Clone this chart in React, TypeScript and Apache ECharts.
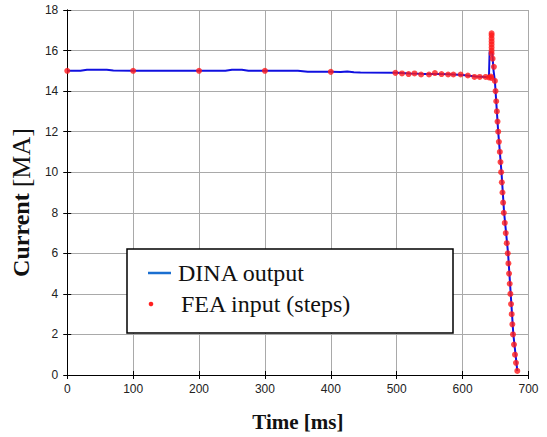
import React, { useEffect, useRef } from "react";
import * as echarts from "echarts";

// DINA output (blue line): time [ms], current [MA]
const dinaTime = [0, 20, 30, 60, 70, 100, 150, 200, 240, 250, 265, 275, 300, 350, 365, 400, 415, 425, 435, 445, 500, 520, 540, 560, 580, 600, 620, 635, 640, 641, 645, 647, 649, 654, 659, 663, 669, 673, 677, 683];
const dinaValue = [15.0, 15.0, 15.05, 15.05, 15.02, 15.0, 15.0, 15.0, 15.0, 15.05, 15.05, 15.0, 15.0, 15.0, 14.96, 14.95, 14.94, 14.97, 14.93, 14.92, 14.9, 14.87, 14.85, 14.85, 14.83, 14.8, 14.72, 14.7, 14.7, 15.95, 15.9, 15.0, 14.5, 12.0, 10.0, 8.0, 6.0, 4.0, 2.0, 0.2];

// FEA input steps (red dots)
const feaTime = [0, 100, 200, 300, 400, 498, 508, 518, 527, 537, 549, 558, 568, 578, 586, 597, 608, 618, 626, 635, 640, 643, 643.5, 644, 644, 644, 644, 644, 644, 644, 644, 645.5, 647.5, 649, 650, 651, 652, 653, 654, 655, 656.5, 657.5, 658.5, 659.5, 660.5, 661.5, 662.5, 664, 665.5, 667, 668.5, 669.5, 670.5, 671.5, 672.5, 673.5, 674.5, 675.5, 676.5, 678, 679.5, 681, 683];
const feaValue = [15.0, 15.0, 15.0, 15.0, 14.95, 14.9, 14.87, 14.84, 14.87, 14.82, 14.82, 14.89, 14.84, 14.82, 14.82, 14.82, 14.77, 14.7, 14.7, 14.7, 14.67, 14.72, 14.65, 15.85, 16.0, 16.15, 16.3, 16.45, 16.6, 16.75, 16.85, 15.6, 15.2, 14.5, 14.0, 13.5, 13.0, 12.5, 12.0, 11.5, 11.0, 10.5, 10.0, 9.5, 9.0, 8.5, 8.0, 7.5, 7.0, 6.5, 6.0, 5.5, 5.0, 4.5, 4.0, 3.5, 3.0, 2.5, 2.0, 1.5, 1.0, 0.6, 0.2];

const seriesNames = ["DINA output", "FEA input (steps)"];
const xTicks = { min: 0, max: 700, interval: 100 };
const yTicks = { min: 0, max: 18, interval: 2 };

const tickFont = { fontFamily: "Liberation Sans", fontSize: 12, color: "#222" };
const SERIF = "Liberation Serif";
const LEGEND_FONT = "normal 400 24px \"Liberation Serif\", \"Times New Roman\", serif";

export default function App() {
  const ref = useRef<HTMLDivElement>(null);
  useEffect(() => {
    if (!ref.current) return;
    const chart = echarts.init(ref.current, undefined, { renderer: "svg" });
    const dina = dinaTime.map((t, i) => [t, dinaValue[i]]);
    const fea = feaTime.map((t, i) => [t, feaValue[i]]);
    const secondaryAxisCommon = {
      axisLabel: { show: false },
      axisTick: { show: true, inside: true, length: 4, lineStyle: { color: "#000" } },
      axisLine: { show: true, lineStyle: { color: "#000", width: 1 } },
      splitLine: { show: false },
    };
    chart.setOption({
      animation: false,
      backgroundColor: "#fff",
      grid: { left: 62, right: 18.5, top: 10, bottom: 61 },
      xAxis: [
        {
          type: "value",
          ...xTicks,
          name: "Time [ms]",
          nameLocation: "middle",
          nameGap: 36,
          nameTextStyle: { fontFamily: SERIF, fontWeight: "bold", fontSize: 21, color: "#111" },
          axisLabel: { ...tickFont, margin: 8 },
          axisTick: { show: true, inside: true, length: 4, lineStyle: { color: "#000" } },
          axisLine: { show: true, lineStyle: { color: "#000", width: 1 } },
          splitLine: { show: true, lineStyle: { color: "#a9a9a9", width: 1 } },
        },
        { type: "value", position: "top", ...xTicks, ...secondaryAxisCommon },
      ],
      yAxis: [
        {
          type: "value",
          ...yTicks,
          name: "{b|Current} {r|[MA]}",
          nameLocation: "middle",
          nameGap: 27,
          nameTextStyle: {
            color: "#111",
            fontFamily: SERIF,
            fontSize: 24,
            padding: [0, 20, 0, 0],
            rich: {
              b: { fontFamily: SERIF, fontWeight: "bold", fontSize: 24, color: "#111" },
              r: { fontFamily: SERIF, fontSize: 26, color: "#111" },
            },
          },
          axisLabel: { ...tickFont, margin: 9 },
          axisTick: { show: true, inside: true, length: 4, lineStyle: { color: "#000" } },
          axisLine: { show: true, lineStyle: { color: "#000", width: 1 } },
          splitLine: { show: true, lineStyle: { color: "#a9a9a9", width: 1 } },
        },
        { type: "value", position: "right", ...yTicks, ...secondaryAxisCommon },
      ],
      graphic: [
        {
          type: "group",
          z: 5,
          children: [
            {
              type: "rect",
              shape: { x: 127, y: 249, width: 326, height: 84 },
              style: { fill: "#fff", stroke: "#000", lineWidth: 1.5 },
              z: 5,
            },
            {
              type: "line",
              shape: { x1: 148, y1: 273, x2: 171, y2: 273 },
              style: { stroke: "#1a6fd0", lineWidth: 2.5 },
              z: 6,
            },
            {
              type: "text",
              x: 178,
              y: 273,
              style: { text: seriesNames[0], font: LEGEND_FONT, fill: "#111", verticalAlign: "middle" },
              z: 6,
            },
            {
              type: "circle",
              shape: { cx: 151, cy: 304, r: 2.3 },
              style: { fill: "#ff2020" },
              z: 6,
            },
            {
              type: "text",
              x: 181,
              y: 304,
              style: { text: seriesNames[1], font: LEGEND_FONT, fill: "#111", verticalAlign: "middle" },
              z: 6,
            },
          ],
        },
      ],
      series: [
        {
          name: seriesNames[0],
          type: "line",
          xAxisIndex: 0,
          yAxisIndex: 0,
          data: dina,
          showSymbol: false,
          symbol: "none",
          smooth: false,
          lineStyle: { color: "#1010e0", width: 2 },
          itemStyle: { color: "#1010e0" },
          z: 2,
        },
        {
          name: seriesNames[1],
          type: "scatter",
          xAxisIndex: 0,
          yAxisIndex: 0,
          data: fea,
          symbol: "circle",
          symbolSize: 6,
          itemStyle: { color: "#ff1a1a" },
          z: 3,
        },
      ],
    });
    return () => chart.dispose();
  }, []);
  return <div ref={ref} style={{ width: 547, height: 437, position: "absolute", left: 0, top: 0 }} />;
}
